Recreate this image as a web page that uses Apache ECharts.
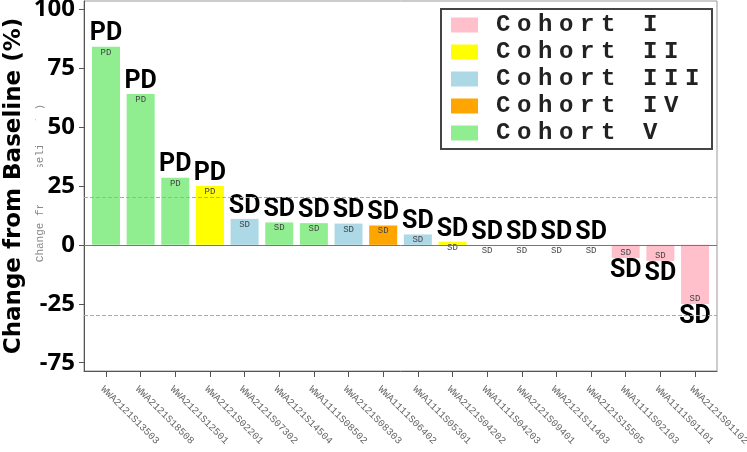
<!DOCTYPE html>
<html>
<head>
<meta charset="utf-8">
<script src="https://cdn.jsdelivr.net/npm/echarts@6/dist/echarts.min.js"></script>
<style>html,body{margin:0;padding:0;background:#fff;}#c{width:747px;height:452px;}</style>
</head>
<body>
<div id="c"></div>
<script>
const categories = ["WWA2121S13503","WWA2121S18508","WWA2121S12501","WWA2121S02201","WWA2121S07302","WWA2121S14504","WWA1111S08502","WWA2121S08303","WWA1111S06402","WWA1111S05301","WWA2121S04202","WWA1111S04203","WWA2121S09401","WWA2121S11403","WWA2121S15505","WWA1111S02103","WWA1111S01101","WWA2121S01102"];
const changes = [84, 64, 28.5, 25, 11, 9.5, 9.2, 9, 8.2, 4.4, 1.3, 0, 0, 0, 0, -5.6, -6.8, -25.1];
const responses = ["PD","PD","PD","PD","SD","SD","SD","SD","SD","SD","SD","SD","SD","SD","SD","SD","SD","SD"];
const cohortOfBar = [4, 4, 4, 1, 2, 4, 4, 2, 3, 2, 1, 0, 0, 0, 0, 0, 0, 0];
const cohortNames = ["Cohort I","Cohort II","Cohort III","Cohort IV","Cohort V"];
const cohortColors = ["#FFC0CB","#FFFF00","#ADD8E6","#FFA500","#90EE90"];
const yTickValues = [100, 75, 50, 25, 0, -25, -50];
const yTickLabels = ["100","75","50","25","0","-25","-75"];
const refLines = [20, -30];

const idx = categories.map((_, i) => i);
const chart = echarts.init(document.getElementById('c'), null, {renderer: 'canvas'});

const mainData = changes.map((v, i) => ({
  value: [i, v],
  itemStyle: {color: cohortColors[cohortOfBar[i]]},
  label: {position: v < 0 ? 'bottom' : 'top'}
}));
const smallData = changes.map((v, i) => ({
  value: [i, v],
  label: {position: v < 0 ? 'insideBottom' : 'insideTop'}
}));

const legendFormatter = name => '{g| }' + name.split('').map(c => '{c|' + c + '}').join('');

const option = {
  animation: false,
  backgroundColor: '#fff',
  grid: {left: 84, right: 30, top: 1, bottom: 81, show: true, borderColor: '#999', borderWidth: 1, containLabel: false, outerBoundsMode: 'none'},
  graphic: [{
    type: 'text', z: -10, x: 40, y: 183, rotation: Math.PI / 2,
    style: {text: 'Change from Baseline (%)', font: '11px "Liberation Mono"', fill: '#888', align: 'center', verticalAlign: 'middle'}
  }],
  legend: {
    orient: 'vertical', left: 441, top: 9,
    padding: [4, 6, 4, 10],
    borderColor: '#444', borderWidth: 2,
    itemWidth: 27, itemHeight: 15, itemGap: 3,
    icon: 'rect',
    data: cohortNames,
    formatter: legendFormatter,
    textStyle: {
      rich: {
        g: {width: 13, fontSize: 24, fontFamily: 'Liberation Mono', lineHeight: 18},
        c: {width: 21, fontSize: 24, fontWeight: 'bold', fontFamily: 'Liberation Mono', color: '#222', lineHeight: 18}
      }
    }
  },
  xAxis: {
    type: 'value', min: -0.635, max: 17.635,
    splitLine: {show: false},
    axisLine: {show: true, onZero: false, lineStyle: {color: '#555'}},
    axisTick: {show: true, customValues: idx, length: 6, lineStyle: {color: '#555'}},
    axisLabel: {
      customValues: idx, rotate: -45, margin: 13, align: 'left', verticalAlign: 'top',
      formatter: v => categories[Math.round(v)] || '',
      fontFamily: 'Liberation Mono', fontSize: 10, color: '#666'
    }
  },
  yAxis: {
    type: 'value', min: -53.5, max: 103.4,
    name: 'Change from Baseline (%)', nameLocation: 'middle', nameGap: 58, nameRotate: 90,
    nameMoveOverlap: false,
    nameTextStyle: {fontFamily: 'DejaVu Sans', fontWeight: 'bold', fontSize: 23, color: '#000'},
    splitLine: {show: false},
    axisLine: {show: true, onZero: false, lineStyle: {color: '#555'}},
    axisTick: {show: true, customValues: yTickValues, length: 5, lineStyle: {color: '#555'}},
    axisLabel: {
      customValues: yTickValues, margin: 9,
      formatter: v => yTickLabels[yTickValues.indexOf(Math.round(v))] || '',
      fontFamily: 'Noto Sans', fontWeight: 'bold', fontSize: 24, color: '#000',
      backgroundColor: '#fff', padding: [6, 0, 8, 12]
    }
  },
  series: [
    {
      name: 'change', type: 'bar', barWidth: 28, barGap: '-100%', z: 2,
      data: mainData,
      label: {
        show: true, distance: 0,
        formatter: p => responses[p.dataIndex],
        fontFamily: 'Roboto', fontWeight: 'bold', fontSize: 25, color: '#000'
      },
      markLine: {
        silent: true, symbol: 'none', label: {show: false},
        data: [
          ...refLines.map(v => ({yAxis: v, lineStyle: {type: 'dashed', color: '#aaa', width: 1}})),
          {yAxis: 0, lineStyle: {type: 'solid', color: '#777', width: 1}}
        ]
      }
    },
    {
      name: 'small', type: 'bar', barWidth: 28, barGap: '-100%', z: 3,
      data: smallData,
      itemStyle: {color: 'rgba(0,0,0,0)'},
      label: {
        show: true, distance: 1,
        formatter: p => responses[p.dataIndex],
        fontFamily: 'Liberation Mono', fontSize: 9, color: '#444'
      }
    },
    ...cohortNames.map((n, k) => ({
      name: n, type: 'line', data: [], color: cohortColors[k],
      itemStyle: {color: cohortColors[k]}, lineStyle: {color: cohortColors[k]}
    }))
  ]
};
chart.setOption(option);
</script>
</body>
</html>
